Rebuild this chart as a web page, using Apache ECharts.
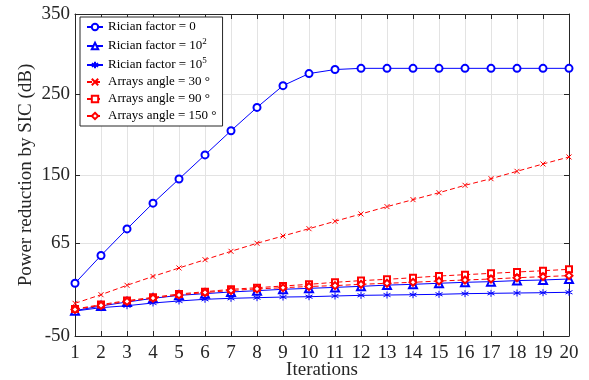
<!DOCTYPE html>
<html>
<head>
<meta charset="utf-8">
<script src="https://cdn.jsdelivr.net/npm/echarts@6/dist/echarts.min.js"></script>
<style>html,body{margin:0;padding:0;background:#fff}#c{width:589px;height:380px}</style>
</head>
<body>
<div id="c"></div>
<script>
var iterations = [1,2,3,4,5,6,7,8,9,10,11,12,13,14,15,16,17,18,19,20];
var yTicks = [-50, 65, 150, 250, 350];
var rician0   = [15.5, 50, 83, 115, 145, 175, 205, 234, 261, 276, 281, 282.5, 282.5, 282.5, 282.5, 282.5, 282.5, 282.5, 282.5, 282.5];
var rician1e2 = [-18.5, -12.7, -7.8, -3.2, 0.5, 2.6, 4.7, 6.3, 8, 9.2, 10.4, 11.7, 13.2, 14.2, 15.5, 16.7, 17.5, 18.8, 19.6, 20.8];
var rician1e5 = [-19, -14.8, -12.4, -9, -6.5, -4.4, -3.2, -2.4, -1.6, -1.2, -0.3, 0.5, 0.9, 1.3, 1.8, 2.6, 3, 3.4, 3.8, 4.3];
var angle30   = [-9.4, 1.3, 13, 24, 34.5, 44.8, 55.2, 65.2, 74.2, 83.3, 92.5, 101.6, 110.7, 119.4, 128, 137.2, 145.4, 154.6, 163.7, 172.4];
var angle90   = [-16.5, -11, -6, -2, 2.2, 5, 8, 10, 12.1, 14.2, 16.7, 18.8, 20.4, 22.4, 24.5, 26.2, 27.8, 29.5, 31.1, 32.8];
var angle150  = [-17, -12, -7, -3, 1, 4, 6.5, 8.5, 10, 11.5, 12.6, 14.2, 15.5, 16.7, 18.3, 19.6, 20.8, 22.4, 23.7, 25];
var names = ['Rician factor = 0', 'Rician factor = 10{sup|2}', 'Rician factor = 10{sup|5}', 'Arrays angle = 30 °', 'Arrays angle = 90 °', 'Arrays angle = 150 °'];

function pairs(arr){ return iterations.map(function(x,i){ return [x, arr[i]]; }); }
var BLUE = '#0000ff', RED = '#ff0000';
var STAR = 'path://M5,0L5,10M0.67,2.5L9.33,7.5M0.67,7.5L9.33,2.5';
var CROSS = 'path://M0,0L10,10M0,10L10,0';
var FONT = 'Liberation Serif';

function mk(name, data, color, symbol, size, dashed){
  return {
    name: name, type: 'line', data: pairs(data),
    symbol: symbol, symbolSize: size,
    lineStyle: {color: color, width: 1, type: dashed ? [5,3] : 'solid'},
    itemStyle: {color: color, borderColor: color, borderWidth: 1},
    emphasis: {disabled: true}, animation: false, z: 3
  };
}

var axisCommon = {
  axisLine: {show: true, onZero: false, lineStyle: {color: '#262626', width: 1}},
  axisTick: {show: true, inside: true, length: 5, lineStyle: {color: '#262626'}}
};

var chart = echarts.init(document.getElementById('c'), null, {renderer: 'canvas'});
chart.setOption({
  animation: false,
  backgroundColor: '#fff',
  grid: {left: 75, right: 20, top: 14, bottom: 44, containLabel: false, outerBoundsMode: 'none'},
  legend: {
    orient: 'vertical', left: 80, top: 17,
    padding: [3, 6, 3, 6],
    backgroundColor: '#fff', borderColor: '#262626', borderWidth: 1,
    itemWidth: 16, itemHeight: 8, itemGap: 3,
    data: names,
    formatter: function(n){ return n; },
    textStyle: {fontFamily: FONT, fontSize: 13, color: '#000', lineHeight: 14,
      rich: {sup: {fontFamily: FONT, fontSize: 9, verticalAlign: 'bottom', padding: [0,0,7,0]}}}
  },
  xAxis: [
    Object.assign({type: 'value', min: 1, max: 20, interval: 1, position: 'bottom',
      name: 'Iterations', nameLocation: 'middle', nameGap: 25, nameMoveOverlap: false,
      nameTextStyle: {fontFamily: FONT, fontSize: 19, color: '#262626'},
      axisLabel: {fontFamily: FONT, fontSize: 19, color: '#262626', margin: 8},
      splitLine: {show: true, lineStyle: {color: '#e3e3e3', width: 1}}}, axisCommon),
    Object.assign({type: 'value', min: 1, max: 20, interval: 1, position: 'top',
      axisLabel: {show: false}, splitLine: {show: false}}, axisCommon)
  ],
  yAxis: [
    Object.assign({type: 'value', min: -50, max: 350, position: 'left',
      name: 'Power reduction by SIC (dB)', nameLocation: 'middle', nameGap: 39, nameMoveOverlap: false,
      nameTextStyle: {fontFamily: FONT, fontSize: 19, color: '#262626'},
      axisLabel: {fontFamily: FONT, fontSize: 19, color: '#262626', margin: 5, customValues: yTicks},
      splitLine: {show: true, lineStyle: {color: '#e3e3e3', width: 1}}}, axisCommon,
      {axisTick: {show: true, inside: true, length: 5, lineStyle: {color: '#262626'}, customValues: yTicks}}),
    Object.assign({type: 'value', min: -50, max: 350, position: 'right',
      axisLabel: {show: false, customValues: yTicks}, splitLine: {show: false}}, axisCommon,
      {axisTick: {show: true, inside: true, length: 5, lineStyle: {color: '#262626'}, customValues: yTicks}})
  ],
  series: [
    mk(names[0], rician0, BLUE, 'emptyCircle', 7, false),
    mk(names[1], rician1e2, BLUE, 'emptyTriangle', 8, false),
    mk(names[2], rician1e5, BLUE, STAR, 7, false),
    mk(names[3], angle30, RED, CROSS, 5, true),
    mk(names[4], angle90, RED, 'emptyRect', 6, true),
    mk(names[5], angle150, RED, 'emptyDiamond', 7, true)
  ]
});
</script>
</body>
</html>
